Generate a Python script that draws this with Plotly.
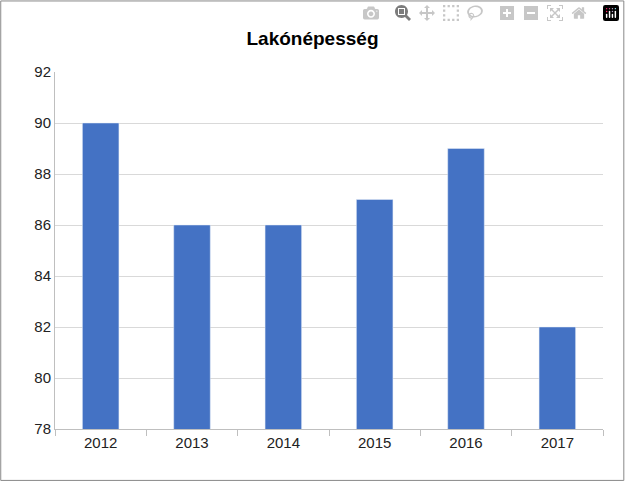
import plotly.graph_objects as go

years = ["2012", "2013", "2014", "2015", "2016", "2017"]
population = [90, 86, 86, 87, 89, 82]

fig = go.Figure(
    go.Bar(x=years, y=population, marker_color="#4472c4", width=0.4)
)

fig.update_layout(
    title=dict(text="<b>Lakónépesség</b>", x=0.5, xanchor="center", y=0.935,
               font=dict(size=19, color="black")),
    width=625, height=482,
    margin=dict(l=55, r=22, t=72, b=53),
    paper_bgcolor="white", plot_bgcolor="white",
    font=dict(family="Liberation Sans, Arial", size=15, color="#222"),
    bargap=0.6,
    showlegend=False,
    shapes=[dict(type="rect", xref="paper", yref="paper",
                 x0=-0.099, x1=1.038, y0=-0.144, y1=1.199,
                 line=dict(color="#888", width=1))],
)
fig.update_xaxes(showline=True, linecolor="#bfbfbf", ticks="outside",
                 tickson="boundaries", ticklen=6, tickcolor="#bfbfbf")
fig.update_yaxes(range=[78, 92], dtick=2, showgrid=True, gridcolor="#d9d9d9",
                 showline=True, linecolor="#bfbfbf", zeroline=False)

# the page's default body margin pushes the chart off the window
fig.write_html("out.html", post_script="document.body.style.margin='0';")
